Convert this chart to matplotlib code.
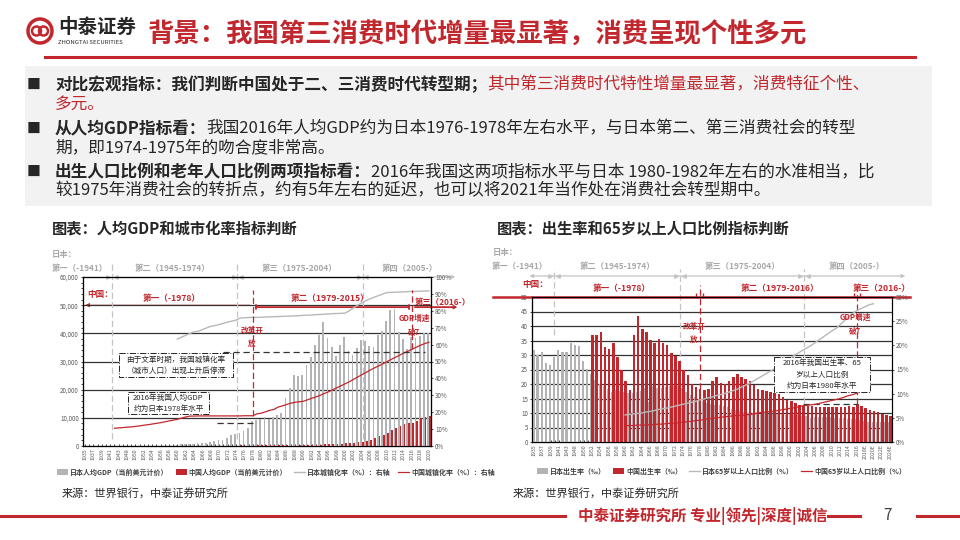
import numpy as np
import matplotlib.pyplot as plt
import matplotlib.transforms as mtransforms
from matplotlib.patches import Rectangle, Circle
from matplotlib.ticker import FuncFormatter

plt.rcParams['font.family'] = ['Noto Sans CJK SC', 'DejaVu Sans']
plt.rcParams['axes.unicode_minus'] = False

RED = '#c1272d'
GRAY = '#b3b3b5'
LGRAY = '#a8a8a8'
DARK = '#333333'
TXT = '#262626'

# ---- 左图：人均GDP与城镇化率 ----
years_l = list(range(1935, 1944)) + list(range(1947, 2021))
gdp_years = list(range(1960, 2021))
jp_gdp = [479, 564, 634, 718, 836, 918, 1068, 1234, 1451, 1669,
          2037, 2272, 2967, 3998, 4354, 4659, 5198, 6335, 8821, 9105,
          9463, 10361, 9578, 10425, 10984, 11585, 17112, 20745, 25052, 24813,
          25372, 28925, 31465, 35766, 39269, 44198, 38437, 35022, 31903, 36027,
          38532, 33846, 32289, 34808, 37688, 37218, 35434, 35275, 39339, 40855,
          44508, 48168, 48603, 40454, 38109, 34524, 38794, 38387, 39159, 40113, 40193]
cn_gdp = [90, 76, 71, 74, 85, 98, 104, 97, 91, 100,
          113, 119, 132, 157, 160, 178, 165, 185, 156, 184,
          195, 197, 203, 225, 251, 294, 282, 252, 284, 311,
          318, 333, 367, 377, 473, 610, 709, 782, 829, 873,
          959, 1053, 1149, 1289, 1509, 1753, 2099, 2694, 3468, 3832,
          4550, 5618, 6317, 7051, 7679, 8067, 8148, 8879, 9977, 10217, 10500]
jp_urban = [63.3, 64.4, 65.5, 66.6, 67.6, 67.9, 68.9, 69.9, 70.8, 71.3,
            71.9, 72.6, 73.3, 73.9, 74.5, 75.7, 75.9, 76.0, 76.1, 76.1,
            76.2, 76.3, 76.4, 76.5, 76.6, 76.7, 76.8, 76.9, 77.0, 77.1,
            77.3, 77.4, 77.5, 77.7, 77.8, 78.0, 78.1, 78.3, 78.4, 78.5,
            78.6, 80.0, 81.7, 83.3, 84.7, 86.0, 87.1, 88.1, 89.0, 89.9,
            90.8, 90.9, 91.0, 91.1, 91.2, 91.4, 91.5, 91.5, 91.6, 91.7, 91.8]
cn_urban_years = [1942, 1943] + list(range(1947, 2021))
cn_urban = [10.5, 10.7,
            10.9, 11.1, 11.3, 11.6, 11.9, 12.3, 12.6, 13.0, 13.4, 13.8,
            14.3, 14.8, 15.3, 15.8, 16.5, 17.2, 17.7, 17.7, 17.8, 17.8,
            17.8, 17.8, 17.8, 17.8, 17.8, 17.8, 17.8, 17.8, 17.8, 17.9,
            17.9, 17.9, 19.0, 19.4, 20.2, 21.1, 21.6, 23.0, 23.7, 24.5,
            25.3, 25.8, 26.2, 26.4, 27.3, 28.2, 29.0, 29.9, 31.0, 32.0,
            33.2, 34.4, 35.6, 36.8, 38.0, 39.4, 40.8, 42.2, 43.5, 44.9,
            46.2, 47.4, 48.6, 49.9, 51.2, 52.5, 53.7, 55.0, 56.1, 57.3,
            58.5, 59.6, 60.6, 61.4]

# ---- 右图：出生率与65岁以上人口比例 ----
years_r = list(range(1935, 1944)) + list(range(1947, 2025))
jp_birth = [31.6, 30.0, 30.9, 27.2, 26.6, 29.4, 31.8, 30.9, 30.9,
            34.3, 33.5, 33.0, 28.1, 25.3, 23.4, 21.5, 20.0, 19.4, 18.4,
            17.2, 18.0, 17.5, 17.2, 16.9, 17.0, 17.3, 17.7, 18.6, 13.7,
            19.4, 18.6, 18.5, 18.8, 19.2, 19.3, 19.4, 18.6, 17.1, 16.3,
            15.5, 14.9, 14.2, 13.6, 13.0, 12.8, 12.7, 12.5, 11.9, 11.4,
            11.1, 10.8, 10.2, 10.0, 9.9, 9.8, 9.6, 10.0, 9.6, 9.7,
            9.5, 9.6, 9.4, 9.5, 9.3, 9.2, 8.9, 8.8, 8.4, 8.7,
            8.6, 8.7, 8.5, 8.5, 8.3, 8.2, 8.2, 8.0, 8.0, 7.8,
            7.6, 7.4, 7.0, 6.8, 6.8, 6.8, 6.8, 6.8]
cn_birth_years = list(range(1952, 2025))
cn_birth = [37.0, 37.0, 38.0, 32.6, 31.9, 34.0, 29.2, 24.8, 20.9, 18.0,
            37.0, 43.4, 39.1, 37.9, 35.1, 34.0, 35.6, 34.1, 33.4, 30.7,
            29.8, 27.9, 24.8, 23.0, 19.9, 18.9, 18.3, 17.8, 18.2, 20.9,
            22.3, 20.2, 19.9, 21.0, 22.4, 23.3, 22.4, 21.6, 21.1, 19.7,
            18.2, 18.1, 17.7, 17.1, 17.0, 16.6, 15.6, 14.6, 14.0, 13.4,
            12.9, 12.4, 12.3, 12.4, 12.1, 12.1, 12.1, 12.0, 11.9, 11.9,
            12.1, 12.1, 12.4, 12.1, 13.0, 12.4, 11.6, 11.0, 10.6, 10.2,
            9.8, 9.3, 8.8]
jp_old_years = list(range(1960, 2021))
jp_old = [5.6, 5.7, 5.8, 5.9, 6.0, 6.2, 6.3, 6.5, 6.7, 6.9,
          7.0, 7.2, 7.4, 7.6, 7.8, 8.0, 8.2, 8.4, 8.7, 8.9,
          9.1, 9.3, 9.6, 9.8, 10.0, 10.3, 10.6, 10.9, 11.3, 11.7,
          12.1, 12.6, 13.1, 13.6, 14.1, 14.6, 15.1, 15.7, 16.2, 16.8,
          17.4, 18.0, 18.5, 19.0, 19.5, 20.0, 20.6, 21.2, 21.8, 22.4,
          23.0, 23.5, 24.3, 25.1, 25.9, 26.6, 27.2, 27.6, 28.0, 28.4, 28.6]
cn_old_years = list(range(1960, 2020))
cn_old = [3.4, 3.4, 3.4, 3.5, 3.5, 3.5, 3.6, 3.6, 3.7, 3.7,
          3.8, 3.9, 3.9, 4.0, 4.1, 4.2, 4.3, 4.4, 4.5, 4.6,
          4.8, 4.9, 5.0, 5.1, 5.2, 5.3, 5.4, 5.5, 5.5, 5.6,
          5.7, 5.8, 6.0, 6.1, 6.2, 6.3, 6.4, 6.5, 6.7, 6.8,
          7.0, 7.1, 7.3, 7.5, 7.6, 7.7, 7.8, 8.0, 8.2, 8.4,
          8.6, 8.8, 9.0, 9.3, 9.6, 9.8, 10.1, 10.6, 11.2, 11.8]

W, H = 960, 540
fig = plt.figure(figsize=(9.6, 5.4), dpi=100)


def rect(x0, y0, x1, y1):
    return [x0 / W, 1 - y1 / H, (x1 - x0) / W, (y1 - y0) / H]


bg = fig.add_axes([0, 0, 1, 1], zorder=0)
bg.set_xlim(0, W); bg.set_ylim(H, 0); bg.axis('off')
fg = fig.add_axes([0, 0, 1, 1], zorder=20)
fg.set_xlim(0, W); fg.set_ylim(H, 0); fg.axis('off')

# 页眉
bg.add_patch(Circle((40, 31), 12, fill=False, ec=RED, lw=2.5))
bg.add_patch(Circle((36.5, 31), 4.5, fill=False, ec=RED, lw=1.8))
bg.add_patch(Circle((43.5, 31), 4.5, fill=False, ec=RED, lw=1.8))
bg.text(58, 27, '中泰证券', fontsize=14, weight='bold', color=TXT, va='center')
bg.text(58, 43, 'ZHONGTAI SECURITIES', fontsize=4.3, color=TXT, va='center')
bg.text(148, 35, '背景：我国第三消费时代增量最显著，消费呈现个性多元',
        fontsize=19, weight='bold', color=RED, va='center')
bg.plot([45, 915], [57, 57], color=RED, lw=2.2)

# 文本框
bg.add_patch(Rectangle((25, 66), 907, 140, fc='#f2f2f2', ec='none'))


def rich(y, parts, size=12):
    t = None
    for s, color, weight in parts:
        if t is None:
            t = bg.text(55, y, s, fontsize=size, color=color, weight=weight, va='center')
        else:
            t = bg.annotate(s, xy=(1, 0.5), xycoords=t, fontsize=size, color=color,
                            weight=weight, va='center', ha='left')


for y in [85, 129, 172]:
    bg.text(34, y, '■', fontsize=10, color=TXT, va='center', ha='center')
rich(85, [('对比宏观指标：我们判断中国处于二、三消费时代转型期；', TXT, 'bold'),
          ('其中第三消费时代特性增量最显著，消费特征个性、', RED, 'normal')])
rich(104, [('多元。', RED, 'normal')])
rich(129, [('从人均GDP指标看：', TXT, 'bold'),
           ('我国2016年人均GDP约为日本1976-1978年左右水平，与日本第二、第三消费社会的转型', TXT, 'normal')])
rich(148, [('期，即1974-1975年的吻合度非常高。', TXT, 'normal')])
rich(172, [('出生人口比例和老年人口比例两项指标看：', TXT, 'bold'),
           ('2016年我国这两项指标水平与日本 1980-1982年左右的水准相当，比', TXT, 'normal')])
rich(191, [('较1975年消费社会的转折点，约有5年左右的延迟，也可以将2021年当作处在消费社会转型期中。', TXT, 'normal')])

bg.text(52, 228, '图表：人均GDP和城市化率指标判断', fontsize=11, weight='bold', color=TXT, va='center')
bg.text(497, 228, '图表：出生率和65岁以上人口比例指标判断', fontsize=11, weight='bold', color=TXT, va='center')

# ================= 左图 =================
axL = fig.add_axes(rect(83, 277, 431, 446), zorder=2)
ix_l = {y: i for i, y in enumerate(years_l)}
xl = np.arange(len(years_l))
gx = np.array([ix_l[y] for y in gdp_years])
b1 = axL.bar(gx - 0.2, jp_gdp, width=0.42, color=GRAY, zorder=3)
b2 = axL.bar(gx + 0.2, cn_gdp, width=0.42, color=RED, zorder=3)
axL.set_xlim(-0.5, len(years_l) - 0.5)
axL.set_ylim(0, 60000)
for v in range(10000, 60000, 10000):
    axL.axhline(v, color=DARK, lw=0.9, zorder=1)
axL.set_yticks(range(0, 60001, 10000))
axL.set_yticks(range(0, 60001, 2000), minor=True)
axL.yaxis.set_major_formatter(FuncFormatter(lambda v, p: f'{int(v):,}'))
axL.set_xticks(xl[::2])
axL.set_xticklabels([str(y) for y in years_l[::2]], rotation=90)
axL.set_xticks(xl, minor=True)
axL.tick_params(axis='x', which='both', direction='in', length=1.5, width=0.5, pad=1.5,
                labelsize=3.8, labelcolor='#595959')
axL.tick_params(axis='y', which='both', length=1.5, width=0.5, pad=1.5,
                labelsize=4.5, labelcolor='#595959')
for s in axL.spines.values():
    s.set_color(DARK); s.set_linewidth(0.9)

axL2 = axL.twinx()
axL2.set_ylim(0, 100)
axL2.set_yticks(range(0, 101, 10))
axL2.yaxis.set_major_formatter(FuncFormatter(lambda v, p: f'{int(v)}%'))
axL2.tick_params(axis='y', length=1.5, width=0.5, pad=1.5, labelsize=4.5, labelcolor='#595959')
l1, = axL2.plot([ix_l[y] for y in gdp_years], jp_urban, color='#b8b8b8', lw=1)
l2, = axL2.plot([ix_l[y] for y in cn_urban_years], cn_urban, color=RED, lw=0.9)

tL = mtransforms.blended_transform_factory(axL.transData, axL.transAxes)
# 日本消费时代分界
for b in [6.4, 36.3, 66.2]:
    axL.plot([b, b], [0.04, 1.09], transform=tL, color='#c4c4c4', lw=0.9,
             ls=(0, (5, 2.5)), clip_on=False, zorder=1)
    axL.plot([b - 0.9], [1.0], transform=tL, marker='>', ms=2.5, color='#c4c4c4', clip_on=False, zorder=1)
    axL.plot([b + 0.9], [1.0], transform=tL, marker='<', ms=2.5, color='#c4c4c4', clip_on=False, zorder=1)
axL.annotate('', xy=(1.078, 1), xytext=(0.98, 1), xycoords='axes fraction',
             arrowprops=dict(arrowstyle='-|>', color='#c4c4c4', lw=0.9, mutation_scale=5),
             annotation_clip=False)

# 中国消费时代
i78, i16 = ix_l[1978], ix_l[2016]
axL.annotate('', xy=(-0.6, 50000), xytext=(i78, 50000),
             arrowprops=dict(arrowstyle='-|>', color=RED, lw=0.6, mutation_scale=6),
             annotation_clip=False, zorder=0.5)
axL.annotate('', xy=(i78, 49300), xytext=(i16, 49300),
             arrowprops=dict(arrowstyle='|-|', color=RED, lw=1.3, mutation_scale=1.5),
             annotation_clip=False, zorder=4)
axL.annotate('', xy=(len(years_l) + 6.5, 49300), xytext=(i16, 49300),
             arrowprops=dict(arrowstyle='-|>', color=RED, lw=1.3, mutation_scale=4),
             annotation_clip=False, zorder=4)
axL2.plot([i78, i78], [cn_urban[cn_urban_years.index(1978)], 92.5], color=RED, lw=0.9,
          ls=(0, (5, 2.5)), clip_on=False)
axL2.plot([i16, i16], [cn_urban[cn_urban_years.index(2016)], 92.5], color=RED, lw=0.9,
          ls=(0, (5, 2.5)), clip_on=False)
# 参照虚线
axL.plot([ix_l[1970] - 0.5, i78], [cn_gdp[gdp_years.index(2016)]] * 2, color=DARK, lw=0.9,
         ls=(0, (5, 3)), zorder=4)
axL2.plot([ix_l[1971], ix_l[2019]], [55.6, 55.6], color=DARK, lw=0.9, ls=(0, (5, 3)))

# ================= 右图 =================
axB = fig.add_axes(rect(532, 297, 892, 442), zorder=2)
ix_r = {y: i for i, y in enumerate(years_r)}
xr = np.arange(len(years_r))
cx = np.array([ix_r[y] for y in cn_birth_years])
b3 = axB.bar(xr - 0.15, jp_birth, width=0.55, color=GRAY, zorder=3)
b4 = axB.bar(cx + 0.15, cn_birth, width=0.62, color=RED, zorder=3)
axB.set_xlim(-0.5, len(years_r) - 0.5)
axB.set_ylim(0, 50)
for v in range(5, 50, 5):
    axB.axhline(v, color=DARK, lw=0.9, zorder=1)
axB.set_yticks(range(0, 51, 5))
axB.set_xticks(xr[::2])
axB.set_xticklabels([str(y) + ('E' if y > 2016 else '') for y in years_r[::2]], rotation=90)
axB.set_xticks(xr, minor=True)
axB.tick_params(axis='x', which='both', direction='in', length=1.5, width=0.5, pad=1.5,
                labelsize=3.8, labelcolor='#595959')
axB.tick_params(axis='y', length=1.5, width=0.5, pad=1.5, labelsize=4.5, labelcolor='#595959')
for s in axB.spines.values():
    s.set_color(DARK); s.set_linewidth(0.9)
axB.spines['right'].set_color('#999999')

axB2 = axB.twinx()
axB2.set_ylim(0, 30)
axB2.set_yticks(range(0, 31, 5))
axB2.yaxis.set_major_formatter(FuncFormatter(lambda v, p: f'{int(v)}%'))
axB2.tick_params(axis='y', length=1.5, width=0.5, pad=1.5, labelsize=4.5, labelcolor='#595959')
l3, = axB2.plot([ix_r[y] for y in jp_old_years], jp_old, color='#b8b8b8', lw=1)
l4, = axB2.plot([ix_r[y] for y in cn_old_years], cn_old, color=RED, lw=0.9)

tB = mtransforms.blended_transform_factory(axB.transData, axB.transAxes)
for b, bottom in [(4.8, 0.74), (35.3, 0.33), (65.2, 0.27)]:
    axB.plot([b, b], [bottom, 1.19], transform=tB, color='#c4c4c4', lw=0.9,
             ls=(0, (5, 2.5)), clip_on=False, zorder=1)
    axB.plot([b - 0.9], [1.145], transform=tB, marker='>', ms=2.5, color='#c4c4c4', clip_on=False)
    axB.plot([b + 0.9], [1.145], transform=tB, marker='<', ms=2.5, color='#c4c4c4', clip_on=False)
axB.annotate('', xy=(-1.8, 1.145), xytext=(90.4, 1.145), xycoords=tB,
             arrowprops=dict(arrowstyle='<|-|>', color='#c4c4c4', lw=0.9, mutation_scale=5),
             annotation_clip=False)
axB.plot([-9.9, 90.8], [50, 50], color=RED, lw=1.8, clip_on=False, zorder=5)
j78, j16 = ix_r[1978], ix_r[2016]
for j in [j78, j16]:
    axB.plot([j - 0.8, j + 0.8], [50.8, 50.8], ls='none', marker='|', ms=3, color=RED,
             clip_on=False, zorder=5)
    axB.plot([j, j], [cn_birth[cn_birth_years.index(years_r[j])], 54.2], color=RED, lw=0.9,
             ls=(0, (5, 2.5)), clip_on=False, zorder=4)
axB.plot([ix_r[2003], j16], [cn_birth[cn_birth_years.index(2016)]] * 2, color=DARK, lw=0.9,
         ls=(0, (5, 3)), zorder=4)

# ================= 图上文字 =================
JP = dict(fontsize=6, weight='bold', color=LGRAY, va='center')
CN = dict(fontsize=6.2, weight='bold', color=RED, va='center')
fg.text(52, 254, '日本：', **JP)
fg.text(52, 268, '第一（-1941）', **JP)
fg.text(172, 268, '第二（1945-1974）', ha='center', **JP)
fg.text(299, 268, '第三（1975-2004）', ha='center', **JP)
fg.text(410, 268, '第四（2005-）', ha='center', **JP)
fg.text(87, 294, '中国：', **CN)
fg.text(172, 299, '第一（-1978）', ha='center', **CN)
fg.text(330, 299, '第二（1979-2015）', ha='center', **CN)
fg.text(415, 303, '第三（2016-）', fontsize=6, weight='bold', color=RED, va='center')
fg.text(252, 337, '改革开\n放', ha='center', fontsize=5.5, weight='bold', color=RED,
        va='center', linespacing=1.6)
fg.text(414, 325, 'GDP增速\n破7', ha='center', fontsize=5.5, weight='bold', color=RED,
        va='center', linespacing=1.5)

fg.text(493, 253, '日本：', **JP)
fg.text(492, 267, '第一（-1941）', **JP)
fg.text(617, 267, '第二（1945-1974）', ha='center', **JP)
fg.text(742, 267, '第三（1975-2004）', ha='center', **JP)
fg.text(857, 267, '第四（2005-）', ha='center', **JP)
fg.text(522, 285, '中国：', **CN)
fg.text(622, 288, '第一（-1978）', ha='center', **CN)
fg.text(780, 288, '第二（1979-2016）', ha='center', **CN)
fg.text(853, 288, '第三（2016-）', **CN)
fg.text(694, 333, '改革开\n放', ha='center', fontsize=5.5, weight='bold', color=RED,
        va='center', linespacing=1.6)
fg.text(855, 324, 'GDP增速\n破7', ha='center', fontsize=5.5, weight='bold', color=RED,
        va='center', linespacing=1.5)

BOX = dict(fc='white', ec=TXT, lw=0.7, ls='-.')
fg.add_patch(Rectangle((119, 353), 114, 24, **BOX))
fg.text(176, 359.5, '由于文革时期，我国城镇化率', ha='center', va='center', fontsize=5.5, color=TXT)
fg.text(176, 371, '（城市人口）出现上升后停滞', ha='center', va='center', fontsize=5.5, color=TXT)
fg.add_patch(Rectangle((128, 392), 81, 22, **BOX))
fg.text(168.5, 398, '2016年我国人均GDP', ha='center', va='center', fontsize=5.5, color=TXT)
fg.text(168.5, 408.5, '约为日本1978年水平', ha='center', va='center', fontsize=5.5, color=TXT)
fg.add_patch(Rectangle((774, 357), 96, 35, **BOX))
fg.text(822, 363, '2016年我国出生率、65', ha='center', va='center', fontsize=5.5, color=TXT)
fg.text(822, 374.5, '岁以上人口比例', ha='center', va='center', fontsize=5.5, color=TXT)
fg.text(822, 386, '约为日本1980年水平', ha='center', va='center', fontsize=5.5, color=TXT)

# 图例
LEG = dict(loc='center left', ncol=4, frameon=False, prop=dict(size=5, weight='bold'),
           handlelength=1.6, handleheight=0.8, handletextpad=0.3, columnspacing=1.0,
           labelcolor='#404040', borderaxespad=0, borderpad=0)
fig.legend([b1, b2, l1, l2], ['日本人均GDP（当前美元计价）', '中国人均GDP（当前美元计价）',
                               '日本城镇化率（%）：右轴', '中国城镇化率（%）：右轴'],
           bbox_to_anchor=(57 / W, 1 - 472 / H), **LEG)
fig.legend([b3, b4, l3, l4], ['日本出生率（‰）', '中国出生率（‰）',
                               '日本65岁以上人口比例（%）', '中国65岁以上人口比例（%）'],
           bbox_to_anchor=(537 / W, 1 - 471 / H), **LEG)

# 来源与页脚
bg.text(62, 493, '来源：世界银行，中泰证券研究所', fontsize=8, color=TXT, va='center')
bg.text(513, 493, '来源：世界银行，中泰证券研究所', fontsize=8, color=TXT, va='center')
bg.plot([0, 565], [516, 516], color=RED, lw=2.2)
bg.text(578, 516, '中泰证券研究所 专业|领先|深度|诚信', fontsize=11.2, weight='bold',
        color=RED, va='center')
bg.plot([828, 860], [516, 516], color=RED, lw=2.2)
bg.text(888, 516, '7', fontsize=11, color='#404040', va='center', ha='center')
bg.plot([917, 960], [516, 516], color=RED, lw=2.2)

fig.savefig('out.png', dpi=100)
